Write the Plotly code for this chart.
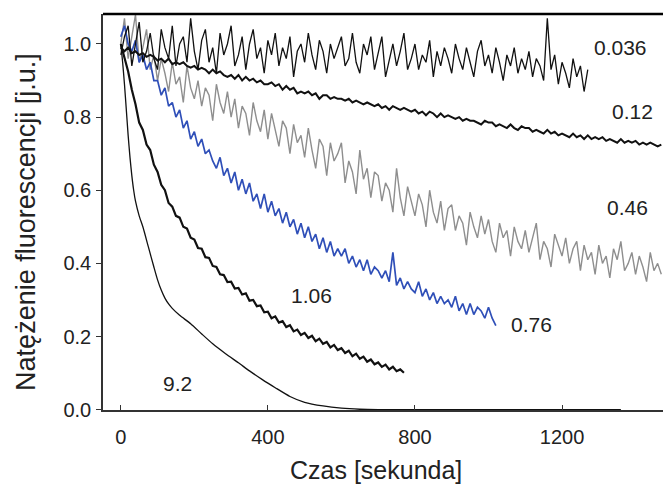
import plotly.graph_objects as go

# Shared time grid (s)
t = [0, 10, 20, 30, 40, 50, 60, 70, 80, 90,
     100, 110, 120, 130, 140, 150, 160, 170, 180, 190,
     200, 210, 220, 230, 240, 250, 260, 270, 280, 290,
     300, 310, 320, 330, 340, 350, 360, 370, 380, 390,
     400, 410, 420, 430, 440, 450, 460, 470, 480, 490,
     500, 510, 520, 530, 540, 550, 560, 570, 580, 590,
     600, 610, 620, 630, 640, 650, 660, 670, 680, 690,
     700, 710, 720, 730, 740, 750, 760, 770, 780, 790,
     800, 810, 820, 830, 840, 850, 860, 870, 880, 890,
     900, 910, 920, 930, 940, 950, 960, 970, 980, 990,
     1000, 1010, 1020, 1030, 1040, 1050, 1060, 1070, 1080, 1090,
     1100, 1110, 1120, 1130, 1140, 1150, 1160, 1170, 1180, 1190,
     1200, 1210, 1220, 1230, 1240, 1250, 1260, 1270, 1280, 1290,
     1300, 1310, 1320, 1330, 1340, 1350, 1360, 1370, 1380, 1390,
     1400, 1410, 1420, 1430, 1440, 1450, 1460, 1470]

# 0.036 (black, noisy) t = 0..1270
y_0036 = [0.97, 1.02, 1.05, 0.94, 1.00, 1.06, 0.95, 0.98, 1.03, 0.96,
          0.93, 1.04, 0.99, 0.96, 1.05, 0.94, 1.00, 1.02, 0.95, 1.07,
          0.98, 0.93, 1.01, 1.04, 0.95, 0.99, 0.92, 1.03, 0.97, 1.00,
          1.05, 0.94, 0.97, 1.02, 0.93, 1.00, 1.04, 0.96, 0.99, 0.92,
          1.01, 0.97, 1.03, 0.94, 0.99, 0.96, 1.02, 0.91, 0.98, 1.00,
          0.95, 1.03, 0.97, 0.93, 1.01, 0.98, 0.92, 1.00, 0.96, 0.99,
          1.02, 0.94, 0.96, 1.03, 0.95, 0.92, 1.00, 0.97, 1.02, 0.93,
          0.98, 1.02, 0.91, 0.96, 1.00, 0.94, 0.98, 1.03, 0.93, 0.96,
          1.00, 0.93, 0.97, 0.95, 1.01, 0.91, 0.98, 0.94, 0.99, 0.96,
          0.92, 1.00, 0.96, 0.93, 0.99, 0.95, 0.91, 0.98, 1.01, 0.94,
          0.97, 0.92, 0.99, 0.95, 0.90, 0.97, 0.94, 0.99, 0.92, 0.96,
          0.93, 0.98, 0.91, 0.96, 0.94, 0.90, 1.07, 0.93, 0.97, 0.89,
          0.95, 0.92, 0.88, 0.96, 0.91, 0.94, 0.87, 0.93]

# 0.12 (black, mild noise) t = 0..1470
y_012 = [0.99, 0.98, 0.99, 0.975, 0.98, 0.97, 0.975, 0.965, 0.97, 0.965,
         0.955, 0.96, 0.95, 0.96, 0.945, 0.95, 0.945, 0.95, 0.94, 0.935,
         0.94, 0.93, 0.935, 0.93, 0.92, 0.93, 0.92, 0.925, 0.915, 0.91,
         0.915, 0.905, 0.915, 0.90, 0.91, 0.90, 0.905, 0.895, 0.90, 0.89,
         0.89, 0.895, 0.885, 0.89, 0.875, 0.885, 0.875, 0.88, 0.865, 0.87,
         0.865, 0.87, 0.86, 0.865, 0.85, 0.86, 0.86, 0.85, 0.855, 0.85,
         0.85, 0.845, 0.85, 0.84, 0.845, 0.84, 0.835, 0.84, 0.835, 0.83,
         0.835, 0.825, 0.83, 0.82, 0.83, 0.825, 0.82, 0.825, 0.82, 0.815,
         0.82, 0.81, 0.815, 0.805, 0.815, 0.81, 0.80, 0.81, 0.80, 0.805,
         0.80, 0.795, 0.80, 0.79, 0.795, 0.79, 0.79, 0.785, 0.78, 0.79,
         0.785, 0.785, 0.775, 0.78, 0.775, 0.77, 0.78, 0.77, 0.765, 0.775,
         0.77, 0.77, 0.76, 0.765, 0.76, 0.755, 0.765, 0.755, 0.76, 0.75,
         0.755, 0.75, 0.745, 0.755, 0.745, 0.75, 0.74, 0.75, 0.74, 0.745,
         0.74, 0.745, 0.735, 0.74, 0.735, 0.73, 0.74, 0.73, 0.735, 0.73,
         0.735, 0.725, 0.73, 0.725, 0.73, 0.725, 0.72, 0.725]

# 0.46 (gray, strong noise) t = 0..1470
y_046 = [1.00, 1.07, 0.96, 1.02, 1.08, 0.95, 0.99, 1.04, 0.93, 0.97,
         0.90, 0.96, 0.92, 0.87, 0.95, 0.89, 0.91, 0.84, 0.94, 0.88,
         0.85, 0.90, 0.83, 0.88, 0.86, 0.79, 0.89, 0.84, 0.81, 0.87,
         0.80, 0.85, 0.77, 0.83, 0.81, 0.75, 0.84, 0.79, 0.76, 0.82,
         0.74, 0.81, 0.76, 0.72, 0.79, 0.77, 0.70, 0.78, 0.73, 0.75,
         0.69, 0.77, 0.71, 0.66, 0.74, 0.72, 0.64, 0.73, 0.68, 0.70,
         0.73, 0.62, 0.68, 0.65, 0.59, 0.71, 0.63, 0.66, 0.58, 0.65,
         0.64, 0.57, 0.62, 0.60, 0.54, 0.66, 0.58, 0.53, 0.61, 0.57,
         0.53, 0.59, 0.56, 0.50, 0.60, 0.54, 0.51, 0.57, 0.49, 0.55,
         0.56, 0.49, 0.53, 0.51, 0.45, 0.54, 0.50, 0.47, 0.53, 0.48,
         0.52, 0.46, 0.43, 0.51, 0.47, 0.49, 0.42, 0.50, 0.46, 0.44,
         0.49, 0.43, 0.47, 0.51, 0.41, 0.46, 0.44, 0.39, 0.48, 0.45,
         0.42, 0.47, 0.40, 0.44, 0.46, 0.38, 0.45, 0.41, 0.43, 0.37,
         0.45, 0.40, 0.42, 0.36, 0.44, 0.41, 0.46, 0.38, 0.40, 0.43,
         0.37, 0.42, 0.39, 0.35, 0.43, 0.38, 0.40, 0.37]

# 0.76 (blue) t = 0..1020
y_076 = [1.02, 1.05, 1.00, 0.98, 1.01, 0.95, 0.97, 0.93, 0.95, 0.90,
         0.90, 0.86, 0.88, 0.83, 0.84, 0.80, 0.82, 0.77, 0.79, 0.74,
         0.76, 0.72, 0.74, 0.70, 0.71, 0.68, 0.66, 0.69, 0.64, 0.66,
         0.62, 0.65, 0.60, 0.63, 0.59, 0.62, 0.57, 0.59, 0.55, 0.59,
         0.54, 0.57, 0.53, 0.55, 0.51, 0.54, 0.50, 0.52, 0.48, 0.51,
         0.47, 0.50, 0.46, 0.48, 0.44, 0.47, 0.43, 0.46, 0.42, 0.44,
         0.42, 0.44, 0.40, 0.42, 0.39, 0.41, 0.38, 0.41, 0.37, 0.39,
         0.38, 0.36, 0.38, 0.35, 0.43, 0.34, 0.36, 0.33, 0.35, 0.33,
         0.32, 0.35, 0.31, 0.33, 0.30, 0.32, 0.29, 0.31, 0.29, 0.30,
         0.28, 0.31, 0.27, 0.29, 0.26, 0.29, 0.26, 0.28, 0.27, 0.25,
         0.28, 0.25, 0.23]

# 1.06 (black) t = 0..770
y_106 = [1.00, 0.96, 0.925, 0.875, 0.835, 0.785, 0.765, 0.725, 0.71, 0.67,
         0.65, 0.615, 0.60, 0.565, 0.555, 0.53, 0.525, 0.50, 0.495, 0.47,
         0.465, 0.442, 0.44, 0.417, 0.415, 0.393, 0.39, 0.37, 0.368, 0.349,
         0.35, 0.331, 0.333, 0.315, 0.318, 0.298, 0.30, 0.283, 0.285, 0.266,
         0.268, 0.25, 0.255, 0.238, 0.242, 0.226, 0.231, 0.214, 0.219, 0.204,
         0.21, 0.196, 0.202, 0.187, 0.194, 0.18, 0.185, 0.17, 0.177, 0.163,
         0.168, 0.155, 0.161, 0.146, 0.153, 0.139, 0.145, 0.131, 0.137, 0.124,
         0.129, 0.117, 0.123, 0.11, 0.117, 0.105, 0.11, 0.101]

# 9.2 (thin black, smooth)
x_92 = [0, 5, 10, 15, 20, 25, 30, 35, 40, 50, 60, 75, 90, 100, 110, 120, 130,
        140, 160, 190, 220, 250, 285, 320, 350, 385, 420, 460, 500, 550, 600,
        650, 700, 800, 900, 1000, 1100, 1200, 1300, 1360]
y_92 = [1.0, 0.95, 0.89, 0.82, 0.75, 0.69, 0.64, 0.60, 0.57, 0.53, 0.50, 0.445,
        0.39, 0.355, 0.327, 0.305, 0.289, 0.277, 0.258, 0.235, 0.207, 0.18,
        0.153, 0.128, 0.106, 0.082, 0.06, 0.036, 0.02, 0.01, 0.004, 0.001, 0.0,
        0.0, 0.0, 0.0, 0.0, 0.0, 0.0, 0.0]

labels = ["0.036", "0.12", "0.46", "0.76", "1.06", "9.2"]
label_x = [1358, 1391, 1377, 1116, 518, 154]
label_y = [0.99, 0.815, 0.552, 0.232, 0.311, 0.071]

xticks = [0, 400, 800, 1200]
yticks = [0.0, 0.2, 0.4, 0.6, 0.8, 1.0]

FONT = "Liberation Sans, Arial, Helvetica, sans-serif"
TXT = "#222222"

fig = go.Figure()
fig.add_trace(go.Scatter(x=t[:len(y_046)], y=y_046, mode="lines",
                         line=dict(color="#8e8e8e", width=1.4)))
fig.add_trace(go.Scatter(x=t[:len(y_076)], y=y_076, mode="lines",
                         line=dict(color="#2f4fb8", width=1.7)))
fig.add_trace(go.Scatter(x=t[:len(y_012)], y=y_012, mode="lines",
                         line=dict(color="#111111", width=2.0)))
fig.add_trace(go.Scatter(x=t[:len(y_0036)], y=y_0036, mode="lines",
                         line=dict(color="#111111", width=1.3)))
fig.add_trace(go.Scatter(x=t[:len(y_106)], y=y_106, mode="lines",
                         line=dict(color="#111111", width=2.2)))
fig.add_trace(go.Scatter(x=x_92, y=y_92, mode="lines",
                         line=dict(color="#111111", width=1.3, shape="spline",
                                   smoothing=0.6)))

for s, lx, ly in zip(labels, label_x, label_y):
    fig.add_annotation(x=lx, y=ly, text=s, showarrow=False,
                       xanchor="center", yanchor="middle",
                       font=dict(family=FONT, size=21, color=TXT))

fig.add_annotation(xref="paper", yref="paper", x=0.4875, y=-0.152,
                   xanchor="center", yanchor="middle",
                   text="Czas [sekunda]", showarrow=False,
                   font=dict(family=FONT, size=25, color=TXT))
fig.add_annotation(xref="paper", yref="paper", x=-0.1375, y=0.475,
                   xanchor="center", yanchor="middle",
                   text="Natężenie fluorescencji [j.u.]", showarrow=False,
                   textangle=-90, font=dict(family=FONT, size=27, color=TXT))

fig.add_shape(type="line", xref="paper", yref="paper", x0=0, x1=1, y0=1, y1=1,
              line=dict(color="#000000", width=2.5))

fig.update_layout(
    width=663, height=486,
    margin=dict(l=103, r=0, t=14, b=76),
    paper_bgcolor="white", plot_bgcolor="white",
    showlegend=False,
    font=dict(family=FONT, size=20, color=TXT),
    xaxis=dict(range=[-48.4, 1474.6], tickvals=xticks,
               ticktext=[str(v) for v in xticks],
               ticks="inside", ticklen=5, tickwidth=1.2, tickcolor="#333",
               showline=True, linecolor="#333", linewidth=1.5,
               showgrid=False, zeroline=False,
               tickfont=dict(family=FONT, size=20, color=TXT),
               ticklabelstandoff=8),
    yaxis=dict(range=[-0.001, 1.082], tickvals=yticks,
               ticktext=["%.1f" % v for v in yticks],
               ticks="outside", ticklen=5, tickwidth=1.2, tickcolor="#333",
               showline=True, linecolor="#333", linewidth=1.5,
               showgrid=False, zeroline=False,
               tickfont=dict(family=FONT, size=20, color=TXT),
               ticklabelstandoff=1),
)

fig.write_html("out.html",
               config={"displayModeBar": False},
               post_script="document.body.style.margin='0';"
                           "document.body.style.overflow='hidden';")
